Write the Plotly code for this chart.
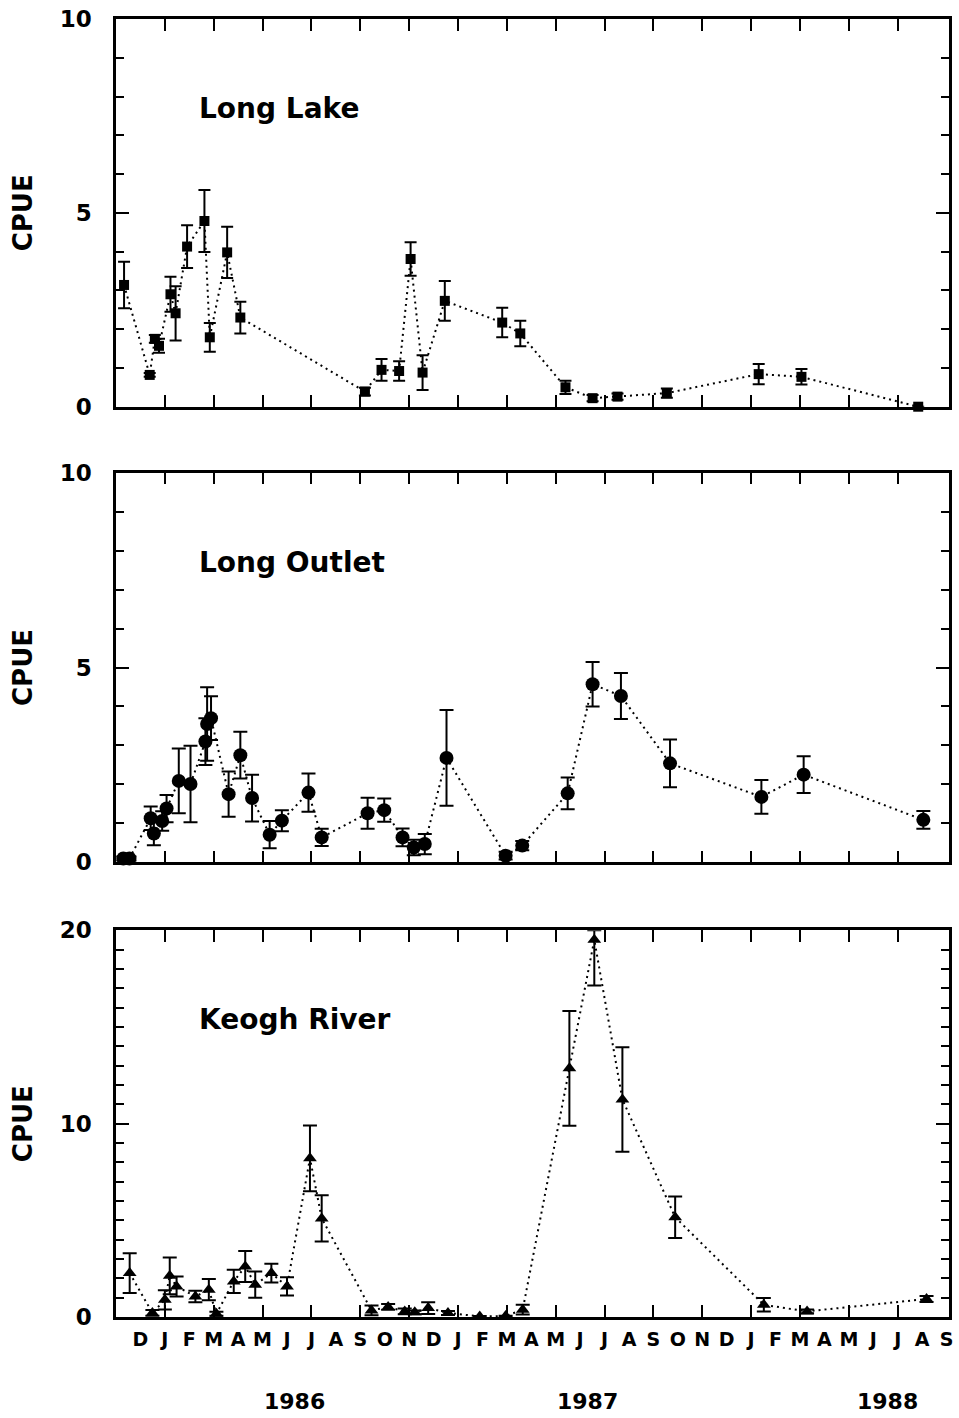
import plotly.graph_objects as go

# ---------------- data (x = months since 1 Nov 1985) ----------------
lake_x = [0.33, 1.38, 1.59, 1.76, 2.23, 2.44, 2.91, 3.62, 3.84, 4.55, 5.09, 10.19, 10.87, 11.59,
          12.06, 12.55, 13.46, 15.81, 16.55, 18.40, 19.51, 20.53, 22.55, 26.31, 28.06, 32.84]
lake_y = [3.14, 0.82, 1.75, 1.57, 2.90, 2.41, 4.13, 4.79, 1.79, 3.98, 2.30, 0.39, 0.95, 0.92,
          3.81, 0.88, 2.73, 2.17, 1.89, 0.50, 0.22, 0.26, 0.35, 0.84, 0.77, 0.00]
lake_err = [0.60, 0.05, 0.10, 0.18, 0.45, 0.70, 0.55, 0.80, 0.37, 0.66, 0.41, 0.10, 0.28, 0.25,
            0.43, 0.45, 0.51, 0.38, 0.33, 0.17, 0.08, 0.08, 0.12, 0.26, 0.20, 0.00]

outlet_x = [0.30, 0.55, 1.42, 1.55, 1.89, 2.07, 2.57, 3.05, 3.66, 3.73, 3.89, 4.61, 5.09, 5.57,
            6.29, 6.79, 7.88, 8.42, 10.30, 10.98, 11.73, 12.19, 12.64, 13.53, 15.95, 16.63,
            18.49, 19.51, 20.67, 22.68, 26.42, 28.15, 33.05]
outlet_y = [0.10, 0.10, 1.13, 0.74, 1.06, 1.38, 2.09, 2.01, 3.10, 3.55, 3.70, 1.75, 2.75, 1.65,
            0.71, 1.07, 1.79, 0.64, 1.26, 1.34, 0.64, 0.38, 0.47, 2.68, 0.17, 0.43,
            1.77, 4.57, 4.27, 2.54, 1.68, 2.25, 1.09]
outlet_err = [0.05, 0.05, 0.30, 0.30, 0.25, 0.35, 0.83, 0.98, 0.60, 0.94, 0.56, 0.58, 0.60, 0.60,
              0.35, 0.27, 0.49, 0.22, 0.40, 0.30, 0.23, 0.20, 0.26, 1.23, 0.10, 0.12,
              0.41, 0.57, 0.59, 0.61, 0.43, 0.47, 0.23]

keogh_x = [0.56, 1.49, 2.00, 2.20, 2.48, 3.25, 3.80, 4.11, 4.82, 5.29, 5.70, 6.36, 7.00, 7.94,
           8.42, 10.46, 11.14, 11.82, 12.23, 12.78, 13.59, 14.89, 15.95, 16.65, 18.56, 19.58,
           20.73, 22.89, 26.52, 28.29, 33.18]
keogh_y = [2.27, 0.21, 0.89, 2.13, 1.58, 1.06, 1.41, 0.17, 1.84, 2.61, 1.67, 2.27, 1.58, 8.21,
           5.10, 0.34, 0.52, 0.29, 0.24, 0.46, 0.21, 0.03, 0.05, 0.38, 12.86, 19.51,
           11.25, 5.16, 0.63, 0.29, 0.93]
keogh_err_plus = [1.03, 0.15, 0.50, 0.95, 0.52, 0.30, 0.55, 0.10, 0.60, 0.80, 0.68, 0.49, 0.47, 1.70,
                  1.20, 0.25, 0.15, 0.15, 0.10, 0.30, 0.10, 0.02, 0.02, 0.25, 2.97, 0.49,
                  2.70, 1.07, 0.35, 0.10, 0.15]
keogh_err_minus = [1.03, 0.15, 0.50, 0.95, 0.52, 0.30, 0.55, 0.10, 0.60, 0.80, 0.68, 0.49, 0.47, 1.70,
                   1.20, 0.25, 0.15, 0.15, 0.10, 0.30, 0.10, 0.02, 0.02, 0.25, 2.97, 2.36,
                   2.70, 1.07, 0.35, 0.10, 0.15]

month_pos = list(range(1, 35))
month_labels = ["D", "J", "F", "M", "A", "M", "J", "J", "A", "S", "O", "N",
                "D", "J", "F", "M", "A", "M", "J", "J", "A", "S", "O", "N",
                "D", "J", "F", "M", "A", "M", "J", "J", "A", "S"]
year_pos = [7.3, 19.3, 31.6]
year_labels = ["1986", "1987", "1988"]
panel_titles = ["Long Lake", "Long Outlet", "Keogh River"]

# ---------------- figure ----------------
FONT = "DejaVu Sans"
W, H = 959, 1418
ml, mr, mt, mb = 116, 6, 18, 101
ph = H - mt - mb


def dom(top_px, bot_px):
    return [(H - mb - bot_px) / ph, (H - mb - top_px) / ph]


doms = [dom(18, 406), dom(472, 862), dom(930, 1317)]

line_style = dict(color="black", width=2, dash="2px,4px")
fig = go.Figure()

fig.add_trace(go.Scatter(
    x=lake_x, y=lake_y, mode="lines+markers", xaxis="x", yaxis="y",
    line=line_style, marker=dict(symbol="square", size=10, color="black"),
    error_y=dict(type="data", array=lake_err, color="black", thickness=2, width=6),
    cliponaxis=False, showlegend=False))

fig.add_trace(go.Scatter(
    x=outlet_x, y=outlet_y, mode="lines+markers", xaxis="x2", yaxis="y2",
    line=line_style, marker=dict(symbol="circle", size=14, color="black"),
    error_y=dict(type="data", array=outlet_err, color="black", thickness=2, width=7),
    cliponaxis=False, showlegend=False))

fig.add_trace(go.Scatter(
    x=keogh_x, y=keogh_y, mode="lines+markers", xaxis="x3", yaxis="y3",
    line=line_style, marker=dict(symbol="triangle-up", size=12, color="black"),
    error_y=dict(type="data", symmetric=False, array=keogh_err_plus, arrayminus=keogh_err_minus,
                 color="black", thickness=2, width=7),
    cliponaxis=False, showlegend=False))

# dummy trace so that the month-label axis is drawn
fig.add_trace(go.Scatter(x=[None], y=[None], xaxis="x4", yaxis="y3", showlegend=False,
                         hoverinfo="skip"))

xcommon = dict(range=[0, 34.1], tickmode="array", tickvals=list(range(2, 33, 2)),
               ticks="inside", ticklen=12, tickwidth=2, tickcolor="black",
               showline=True, linewidth=2.5, linecolor="black", mirror="ticks",
               showticklabels=False, showgrid=False, zeroline=False)

ycommon = dict(ticks="inside", ticklen=13, tickwidth=2, tickcolor="black",
               showline=True, linewidth=2.5, linecolor="black", mirror="ticks",
               showgrid=False, zeroline=False, ticklabelstandoff=17,
               tickfont=dict(family=FONT, size=23, color="black", weight="bold"),
               minor=dict(dtick=1, ticks="inside", ticklen=8, tickwidth=1.5, tickcolor="black"),
               title=dict(text="CPUE", font=dict(family=FONT, size=26, color="black", weight="bold"),
                          standoff=20))

fig.update_layout(
    width=W, height=H,
    margin=dict(l=ml, r=mr, t=mt, b=mb),
    paper_bgcolor="white", plot_bgcolor="white",
    xaxis=dict(domain=[0, 1], anchor="y", **xcommon),
    xaxis2=dict(domain=[0, 1], anchor="y2", **xcommon),
    xaxis3=dict(domain=[0, 1], anchor="y3", **xcommon),
    xaxis4=dict(overlaying="x3", anchor="y3", side="bottom", range=[0, 34.1],
                tickmode="array", tickvals=month_pos, ticktext=month_labels,
                ticks="", showline=False, showgrid=False, zeroline=False,
                ticklabelstandoff=9,
                tickfont=dict(family=FONT, size=19, color="black", weight="bold")),
    yaxis=dict(domain=doms[0], anchor="x", range=[0, 10], tickvals=[0, 5, 10], **ycommon),
    yaxis2=dict(domain=doms[1], anchor="x2", range=[0, 10], tickvals=[0, 5, 10], **ycommon),
    yaxis3=dict(domain=doms[2], anchor="x3", range=[0, 20], tickvals=[0, 10, 20], **ycommon),
)

annos = []
for i, t in enumerate(panel_titles):
    annos.append(dict(text=t, xref="x domain" if i == 0 else f"x{i+1} domain",
                      yref="y domain" if i == 0 else f"y{i+1} domain",
                      x=0.097, y=0.77, xanchor="left", yanchor="middle", showarrow=False,
                      font=dict(family=FONT, size=28, color="black", weight="bold")))
for xp, yl in zip(year_pos, year_labels):
    annos.append(dict(text=yl, xref="x3", yref="paper", x=xp, y=(H - mb - 1402) / ph,
                      xanchor="center", yanchor="middle", showarrow=False,
                      font=dict(family=FONT, size=22, color="black", weight="bold")))
fig.update_layout(annotations=annos)

fig.write_html("out.html")
